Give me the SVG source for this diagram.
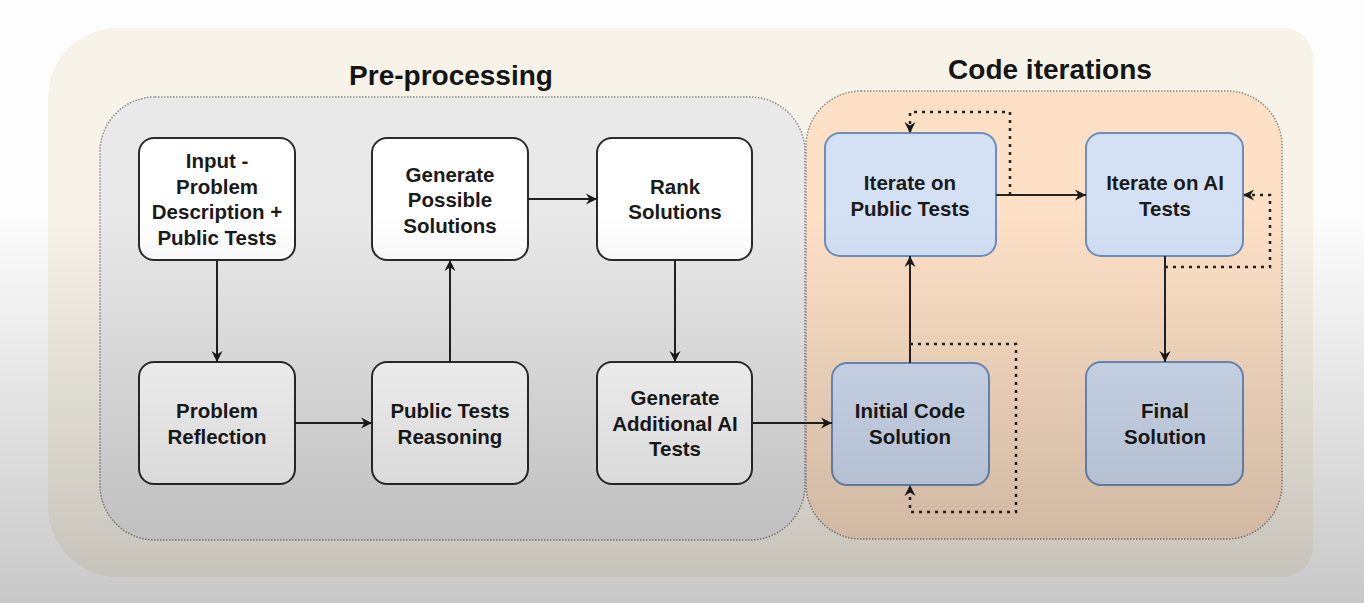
<svg xmlns="http://www.w3.org/2000/svg" width="1364" height="603" viewBox="0 0 1364 603">
  <defs>
    <style>
      .title { font-family: "Liberation Sans", Arial, sans-serif; font-weight: bold; font-size: 28px; fill: #151515; text-anchor: middle; }
      .label { font-family: "Liberation Sans", Arial, sans-serif; font-weight: bold; font-size: 20.5px; fill: #1a1a1a; text-anchor: middle; }
      .plain { fill: #ffffff; stroke: #2b2b2b; stroke-width: 2; }
      .blue { fill: #d4e1f5; stroke: #6c8ebf; stroke-width: 2; }
      .group { stroke: #8c8c8c; stroke-width: 1.5; stroke-dasharray: 1.5 1.5; }
      .edge { fill: none; stroke: #222222; stroke-width: 2; marker-end: url(#arrow); }
      .loop { fill: none; stroke: #222222; stroke-width: 2.5; stroke-dasharray: 3 5; marker-end: url(#arrow); }
    </style>
    <marker id="arrow" markerUnits="userSpaceOnUse" markerWidth="14" markerHeight="14" refX="12" refY="7" orient="auto">
      <path d="M1,1.5 L12,7 L1,12.5 L4.5,7 Z" fill="#1a1a1a"/>
    </marker>
    <linearGradient id="shade" x1="0" y1="0" x2="0" y2="603" gradientUnits="userSpaceOnUse">
      <stop offset="0" stop-color="#000" stop-opacity="0"/>
      <stop offset="0.35" stop-color="#000" stop-opacity="0"/>
      <stop offset="1" stop-color="#000" stop-opacity="0.21"/>
    </linearGradient>
  </defs>

  <!-- page -->
  <rect x="0" y="0" width="1364" height="603" fill="#fdfdfd"/>
  <path d="M118,28 L1283,28 A30,30 0 0 1 1313,58 L1313,547 A30,30 0 0 1 1283,577 L118,577 A70,70 0 0 1 48,507 L48,98 A70,70 0 0 1 118,28 Z" fill="#f7f3e8"/>

  <!-- stage containers -->
  <g id="preprocessing">
    <rect class="group" x="100" y="97" width="705" height="443" rx="55" ry="55" fill="#e9e9e9"/>
    <text class="title" x="451" y="85">Pre-processing</text>
  </g>
  <g id="code-iterations">
    <rect class="group" x="806" y="91" width="476" height="448" rx="55" ry="55" fill="#fde0c6"/>
    <text class="title" x="1050" y="79">Code iterations</text>
  </g>

  <!-- nodes -->
  <g id="input">
    <rect class="plain" x="139" y="138" width="156" height="122" rx="15"/>
    <text class="label" x="217" y="168">Input -</text>
    <text class="label" x="217" y="193.5">Problem</text>
    <text class="label" x="217" y="219">Description +</text>
    <text class="label" x="217" y="244.5">Public Tests</text>
  </g>
  <g id="generate-solutions">
    <rect class="plain" x="372" y="138" width="156" height="122" rx="15"/>
    <text class="label" x="450" y="181.5">Generate</text>
    <text class="label" x="450" y="207">Possible</text>
    <text class="label" x="450" y="232.5">Solutions</text>
  </g>
  <g id="rank-solutions">
    <rect class="plain" x="597" y="138" width="155" height="122" rx="15"/>
    <text class="label" x="675" y="193.5">Rank</text>
    <text class="label" x="675" y="219">Solutions</text>
  </g>
  <g id="problem-reflection">
    <rect class="plain" x="139" y="362" width="156" height="122" rx="15"/>
    <text class="label" x="217" y="418">Problem</text>
    <text class="label" x="217" y="443.5">Reflection</text>
  </g>
  <g id="public-tests-reasoning">
    <rect class="plain" x="372" y="362" width="156" height="122" rx="15"/>
    <text class="label" x="450" y="418">Public Tests</text>
    <text class="label" x="450" y="443.5">Reasoning</text>
  </g>
  <g id="generate-ai-tests">
    <rect class="plain" x="597" y="362" width="155" height="122" rx="15"/>
    <text class="label" x="675" y="405">Generate</text>
    <text class="label" x="675" y="430.5">Additional AI</text>
    <text class="label" x="675" y="456">Tests</text>
  </g>
  <g id="iterate-public">
    <rect class="blue" x="825" y="133" width="171" height="123" rx="15"/>
    <text class="label" x="910" y="190">Iterate on</text>
    <text class="label" x="910" y="215.5">Public Tests</text>
  </g>
  <g id="iterate-ai">
    <rect class="blue" x="1086" y="133" width="157" height="123" rx="15"/>
    <text class="label" x="1165" y="190">Iterate on AI</text>
    <text class="label" x="1165" y="215.5">Tests</text>
  </g>
  <g id="initial-code">
    <rect class="blue" x="832" y="363" width="157" height="122" rx="15"/>
    <text class="label" x="910" y="418">Initial Code</text>
    <text class="label" x="910" y="443.5">Solution</text>
  </g>
  <g id="final-solution">
    <rect class="blue" x="1086" y="362" width="157" height="123" rx="15"/>
    <text class="label" x="1165" y="418">Final</text>
    <text class="label" x="1165" y="443.5">Solution</text>
  </g>

  <!-- connectors -->
  <g id="connectors">
    <path class="edge" d="M217,260 L217,362"/>
    <path class="edge" d="M295,423 L372,423"/>
    <path class="edge" d="M450,362 L450,260"/>
    <path class="edge" d="M528,199 L597,199"/>
    <path class="edge" d="M675,260 L675,362"/>
    <path class="edge" d="M752,423 L832,423"/>
    <path class="edge" d="M910,363 L910,256"/>
    <path class="edge" d="M996,195 L1086,195"/>
    <path class="edge" d="M1165,256 L1165,362"/>
    <path class="loop" d="M1010,195 L1010,112 L910,112 L910,133"/>
    <path class="loop" d="M1165,267 L1270,267 L1270,195 L1243,195"/>
    <path class="loop" d="M910,344 L1016,344 L1016,512 L910,512 L910,485"/>
  </g>

  <!-- darkening toward the bottom edge -->
  <rect x="0" y="0" width="1364" height="603" fill="url(#shade)" pointer-events="none"/>
</svg>
